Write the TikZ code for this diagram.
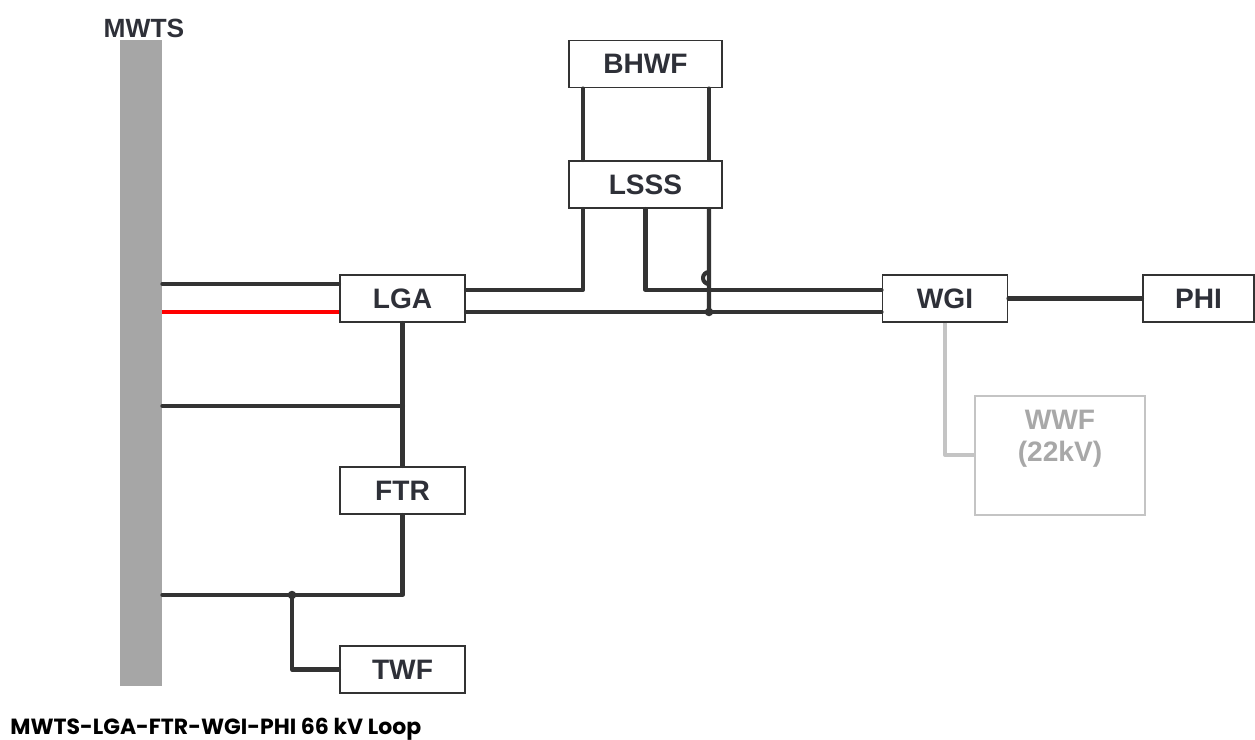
\documentclass[tikz,border=0pt]{standalone}
\usepackage{fontspec}
\setmainfont{Liberation Sans}
\newfontfamily\capfont{Poppins}
\usetikzlibrary{positioning}
\definecolor{wirec}{HTML}{333333}
\definecolor{textc}{HTML}{2E3038}
\definecolor{busc}{HTML}{A6A6A6}
\definecolor{auxc}{HTML}{C4C4C4}
\definecolor{auxtext}{HTML}{A8A8A8}
\begin{document}
\begin{tikzpicture}[x=0.02cm,y=-0.02cm,font=\fontsize{16}{18}\selectfont\bfseries,text=textc,
  box/.style={draw=wirec,line width=1.1pt,fill=white,minimum width=2.5cm,minimum height=0.94cm,inner sep=0pt},
  wide/.style={box,minimum width=3.06cm},
  wire/.style={draw=wirec,line width=2.3pt,line cap=round,line join=round},
  feed/.style={draw=red,line width=2.3pt},
  aux/.style={draw=auxc,line width=2.3pt,line join=round},
  dot/.style={circle,fill=wirec,inner sep=0pt,minimum size=0.17cm}]
\useasboundingbox (0,0) rectangle (1255,740);
\node[fill=busc,minimum width=0.84cm,minimum height=12.92cm,inner sep=0pt] (MWTS) at (141,363) {};
\node[font=\fontsize{15}{17}\selectfont\bfseries] (mwtslbl) at (144,28) {MWTS};
\node[wide] (BHWF) at (645.5,64) {BHWF};
\node[wide] (LSSS) at (645.5,184.5) {LSSS};
\node[box] (LGA) at (402.5,298.5) {LGA};
\node[box] (WGI) at (945,298.5) {WGI};
\node[box,minimum width=2.22cm] (PHI) at (1198.5,298.5) {PHI};
\node[box] (FTR) at (402.5,490.5) {FTR};
\node[box] (TWF) at (402.5,669.5) {TWF};
\node[box,draw=auxc,minimum width=3.4cm,minimum height=2.38cm,anchor=north west,
  label={[text=auxtext,align=center,anchor=north,inner sep=0pt,yshift=-0.3cm]north:WWF\\(22kV)}] (WWF) at (974,395) {};
\coordinate (j1) at (709,312);
\coordinate (j2) at (292,595);
% MWTS feeders
\draw[wire] (MWTS.east |- 0,284) -- (LGA.west |- 0,284);
\draw[feed] (MWTS.east |- 0,312) -- (LGA.west |- 0,312);
\draw[wire] (MWTS.east |- 0,406) -- (403,406);
\draw[wire] (LGA.south) -- (FTR.north);
\draw[wire] (FTR.south) |- (MWTS.east |- 0,595);
\node[dot] at (j2) {};
\draw[wire] (j2) |- (TWF.west);
% LSSS / BHWF
\draw[wire] (BHWF.south -| 583,0) -- (LSSS.north -| 583,0);
\draw[wire] (BHWF.south -| 709,0) -- (LSSS.north -| 709,0);
\draw[wire] (LSSS.south -| 583,0) |- (LGA.east |- 0,290);
\draw[wire] (LSSS.south) |- (WGI.west |- 0,290);
\draw[wire] (LSSS.south -| 709,0) -- (709,284) arc[start angle=90,end angle=270,radius=6] -- (j1);
\draw[wire] (LGA.east |- j1) -- (WGI.west |- j1);
\node[dot] at (j1) {};
% WGI
\draw[wire] (WGI.east) -- (PHI.west);
\draw[aux] (WGI.south) |- (WWF.west |- 0,455);
\node[font=\capfont\fontsize{12.5}{14}\selectfont\bfseries,text=black,anchor=west,inner sep=0pt] (caption) at (10,729) {MWTS-LGA-FTR-WGI-PHI 66 kV Loop};
\end{tikzpicture}
\end{document}
